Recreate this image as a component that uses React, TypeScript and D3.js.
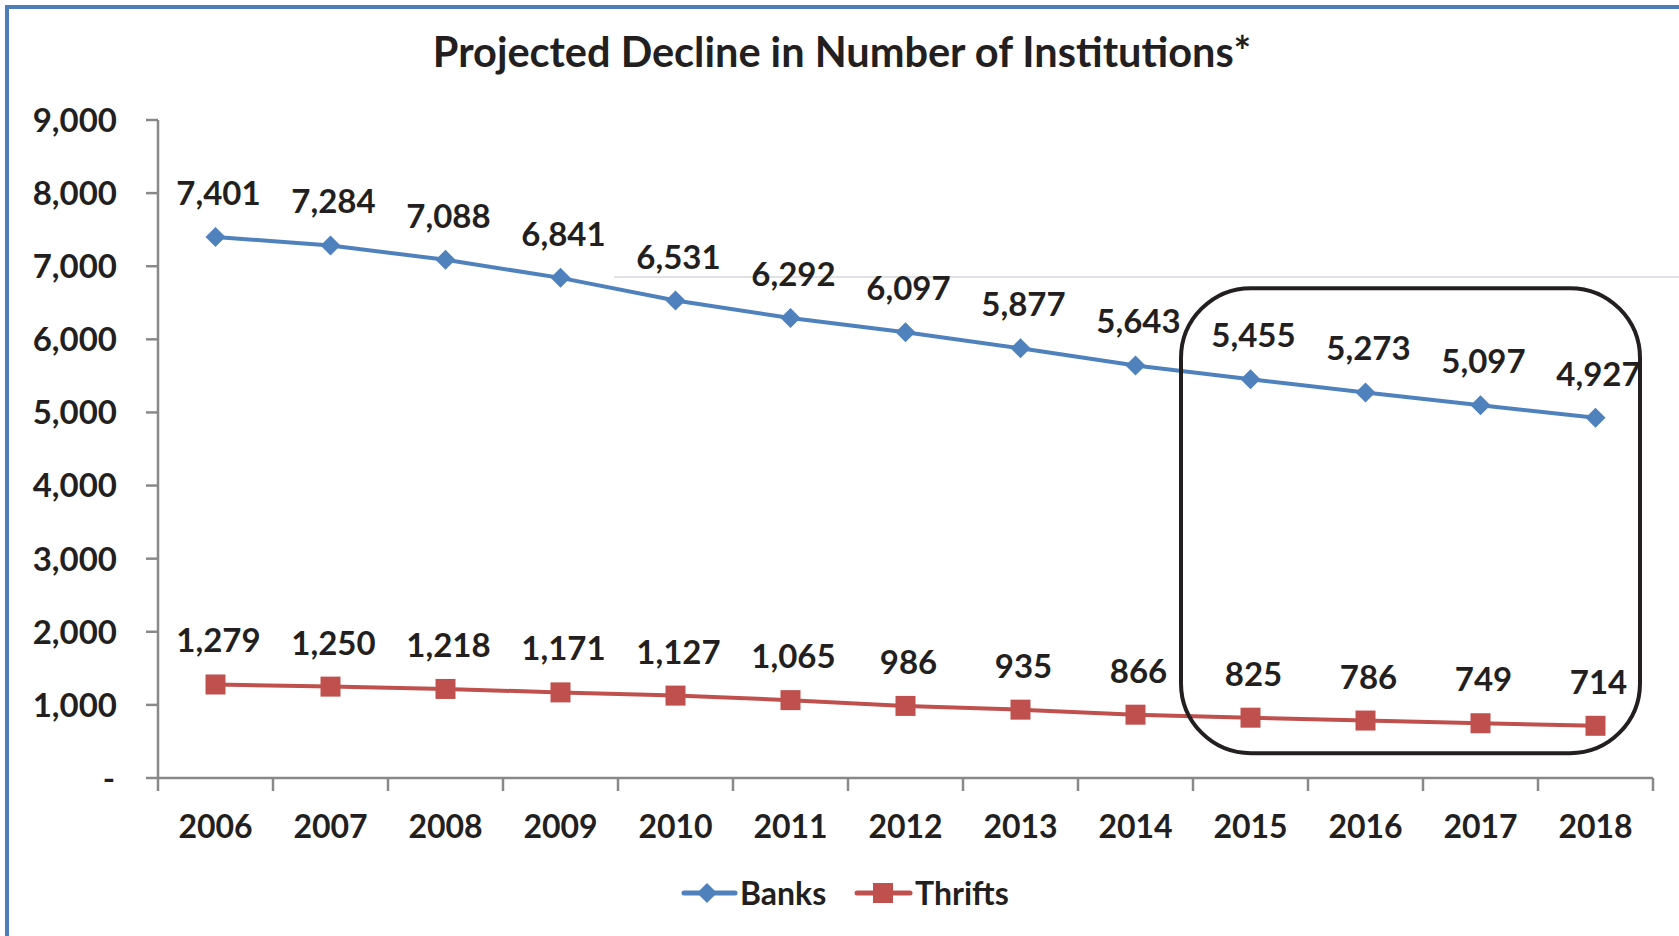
import React from 'react';
import * as d3 from 'd3';

const years = ['2006', '2007', '2008', '2009', '2010', '2011', '2012', '2013', '2014', '2015', '2016', '2017', '2018'];
const banks = [7401, 7284, 7088, 6841, 6531, 6292, 6097, 5877, 5643, 5455, 5273, 5097, 4927];
const thrifts = [1279, 1250, 1218, 1171, 1127, 1065, 986, 935, 866, 825, 786, 749, 714];
const yTicks = [0, 1000, 2000, 3000, 4000, 5000, 6000, 7000, 8000, 9000];
// highlighted projection years and the value span of the box
const boxYears = ['2015', '2018'];
const boxRange = [340, 6700];

const W = 1679, H = 936;
const FONT = 'Lato, "Open Sans", sans-serif';
const INK = '#231F20';
const AXIS = '#898989';
const BLUE = '#4F81BD';
const RED = '#C0504D';

const App = () => {
  const x = d3.scaleBand<string>().domain(years).range([158, 1653]).padding(0);
  const y = d3.scaleLinear().domain([0, 9000]).range([778, 120]);
  const cx = (d: string) => (x(d) as number) + x.bandwidth() / 2;
  const fmt = d3.format(',');

  const line = d3.line<number>()
    .x((_, i) => cx(years[i]))
    .y(d => y(d));

  const series = [
    { name: 'Banks', values: banks, color: BLUE, marker: 'diamond' },
    { name: 'Thrifts', values: thrifts, color: RED, marker: 'square' },
  ];

  const marker = (kind: string, color: string, px: number, py: number, key: any) =>
    kind === 'diamond'
      ? <path key={key} d={`M${px},${py - 10}L${px + 10},${py}L${px},${py + 10}L${px - 10},${py}Z`} fill={color} />
      : <rect key={key} x={px - 10} y={py - 10} width={20} height={20} fill={color} />;

  const bx0 = (x(boxYears[0]) as number) - 12;
  const bx1 = (x(boxYears[1]) as number) + x.bandwidth() - 13;

  return (
    <svg width={W} height={H} style={{ position: 'absolute', left: 0, top: 0, display: 'block', background: '#fff' }}
      fontFamily={FONT} fontWeight="bold">
      {/* frame */}
      <line x1={7} y1={7} x2={W} y2={7} stroke="#4F7DB8" strokeWidth={4} />
      <line x1={7} y1={5} x2={7} y2={H} stroke="#4F7DB8" strokeWidth={4} />
      <line x1={614} y1={277} x2={W} y2={277} stroke="#D6D6E0" strokeWidth={1.5} />

      <text x={842} y={67} textAnchor="middle" fontSize={41.5} fill={INK}>Projected Decline in Number of Institutions*</text>

      {/* y axis */}
      <line x1={158} y1={y(9000)} x2={158} y2={y(0)} stroke={AXIS} strokeWidth={2.5} />
      {yTicks.map(t => (
        <g key={t}>
          <line x1={146} x2={158} y1={y(t)} y2={y(t)} stroke={AXIS} strokeWidth={2.5} />
          <text x={t === 0 ? 115 : 117} y={y(t)} dy="0.36em" textAnchor="end" fontSize={33} fill={INK}>
            {t === 0 ? '-' : fmt(t)}
          </text>
        </g>
      ))}

      {/* x axis */}
      <line x1={158} y1={y(0)} x2={1653} y2={y(0)} stroke={AXIS} strokeWidth={2.5} />
      {years.concat(['end']).map((d, i) => {
        const tx = i < years.length ? (x(d) as number) : 1653;
        return <line key={d} x1={tx} x2={tx} y1={y(0)} y2={y(0) + 13} stroke={AXIS} strokeWidth={2.5} />;
      })}
      {years.map(d => (
        <text key={d} x={cx(d)} y={838} textAnchor="middle" fontSize={32} fill={INK}>{d}</text>
      ))}

      {/* series */}
      {series.map(s => (
        <g key={s.name}>
          <path d={line(s.values) as string} fill="none" stroke={s.color} strokeWidth={4} />
          {s.values.map((v, i) => marker(s.marker, s.color, cx(years[i]), y(v), i))}
          {s.values.map((v, i) => (
            <text key={'l' + i} x={cx(years[i]) + 3} y={y(v) - 32} textAnchor="middle" fontSize={33} fill={INK}>{fmt(v)}</text>
          ))}
        </g>
      ))}

      {/* highlight box */}
      <rect x={bx0} y={y(boxRange[1])} width={bx1 - bx0} height={y(boxRange[0]) - y(boxRange[1])}
        rx={70} ry={70} fill="none" stroke={INK} strokeWidth={4} />

      {/* legend */}
      <line x1={684} x2={735} y1={893} y2={893} stroke={BLUE} strokeWidth={5} strokeLinecap="round" />
      {marker('diamond', BLUE, 707, 893, 'lb')}
      <text x={740} y={905} fontSize={32} fill={INK}>Banks</text>
      <line x1={857} x2={910} y1={893} y2={893} stroke={RED} strokeWidth={5} strokeLinecap="round" />
      {marker('square', RED, 883, 893, 'lt')}
      <text x={915} y={905} fontSize={32} fill={INK}>Thrifts</text>
    </svg>
  );
};

export default App;
